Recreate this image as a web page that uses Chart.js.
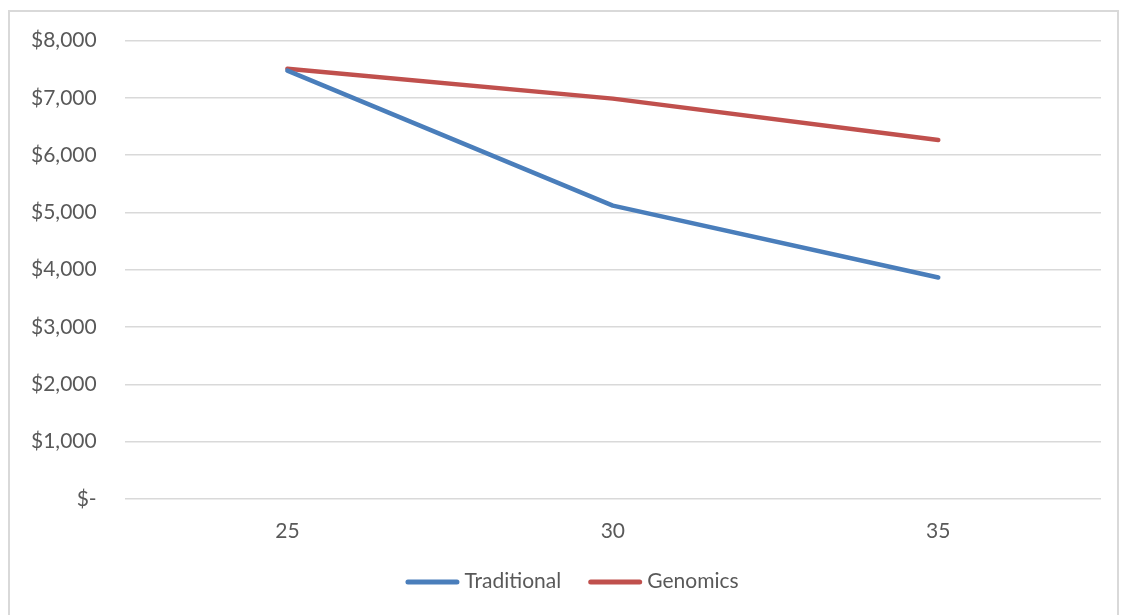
<!DOCTYPE html>
<html>
<head>
<meta charset="utf-8">
<script src="https://cdn.jsdelivr.net/npm/chart.js@4/dist/chart.umd.min.js"></script>
<style>
  html, body { margin: 0; padding: 0; background: #fff; }
  #frame { position: absolute; left: 8px; top: 10px; width: 1111px; height: 610px; border: 2px solid #d9d9d9; box-sizing: border-box; }
  #wrap { position: absolute; left: 0; top: 0; width: 1123px; height: 615px; }
</style>
</head>
<body>
<div id="frame"></div>
<div id="wrap"><canvas id="c" width="1123" height="615"></canvas></div>
<script>
// Age categories on the x axis
const ages = ['25', '30', '35'];
// Cost per series, in dollars
const traditional = [7475, 5118, 3865];
const genomics = [7510, 6987, 6265];
// Value axis range
const yMin = 0;
const yMax = 8000;
const yStep = 1000;

const textColor = '#595959';
const gridColor = '#d9d9d9';
const fontFamily = 'Lato, "Open Sans", sans-serif';
const fontSize = 21;

function money(v) {
  if (v === 0) return '$-';
  return '$' + v.toLocaleString('en-US');
}

// Legend row under the axis: a short rounded stroke in the series colour, then its name
const lineLegend = {
  id: 'lineLegend',
  afterDraw(chart) {
    const ctx = chart.ctx;
    const sw = 54, gapText = 5, gapItem = 27, y = 581;
    ctx.save();
    ctx.font = fontSize + 'px ' + fontFamily;
    ctx.textBaseline = 'middle';
    const items = chart.data.datasets.map(ds => ({ ds, w: ctx.measureText(ds.label).width }));
    let total = 0;
    items.forEach((it, i) => { total += sw + gapText + it.w + (i < items.length - 1 ? gapItem : 0); });
    let x = 572 - total / 2;
    items.forEach(it => {
      ctx.strokeStyle = it.ds.borderColor;
      ctx.lineWidth = 5;
      ctx.lineCap = 'round';
      ctx.beginPath();
      ctx.moveTo(x + 2.5, y + 1);
      ctx.lineTo(x + sw - 2.5, y + 1);
      ctx.stroke();
      ctx.fillStyle = textColor;
      ctx.fillText(it.ds.label, x + sw + gapText, y);
      x += sw + gapText + it.w + gapItem;
    });
    ctx.restore();
  }
};

new Chart(document.getElementById('c'), {
  type: 'line',
  data: {
    labels: ages,
    datasets: [
      { label: 'Traditional', data: traditional, borderColor: '#4a7ebb', backgroundColor: '#4a7ebb',
        borderWidth: 4.5, pointRadius: 0, borderCapStyle: 'round', borderJoinStyle: 'round', tension: 0 },
      { label: 'Genomics', data: genomics, borderColor: '#c0504d', backgroundColor: '#c0504d',
        borderWidth: 4.5, pointRadius: 0, borderCapStyle: 'round', borderJoinStyle: 'round', tension: 0 }
    ]
  },
  options: {
    responsive: false,
    animation: false,
    layout: { padding: { left: 3, right: 22, top: 29, bottom: 51 } },
    plugins: {
      tooltip: { enabled: false },
      legend: { display: false }
    },
    scales: {
      x: {
        offset: true,
        grid: { display: false, drawTicks: false },
        border: { display: false },
        ticks: { color: textColor, font: { family: fontFamily, size: fontSize }, padding: 20 }
      },
      y: {
        min: yMin, max: yMax,
        grid: { color: gridColor, lineWidth: 1.5, drawTicks: false },
        border: { display: false },
        ticks: {
          stepSize: yStep,
          color: textColor,
          font: { family: fontFamily, size: fontSize },
          padding: 28,
          callback: v => money(v)
        }
      }
    }
  },
  plugins: [lineLegend]
});
</script>
</body>
</html>
